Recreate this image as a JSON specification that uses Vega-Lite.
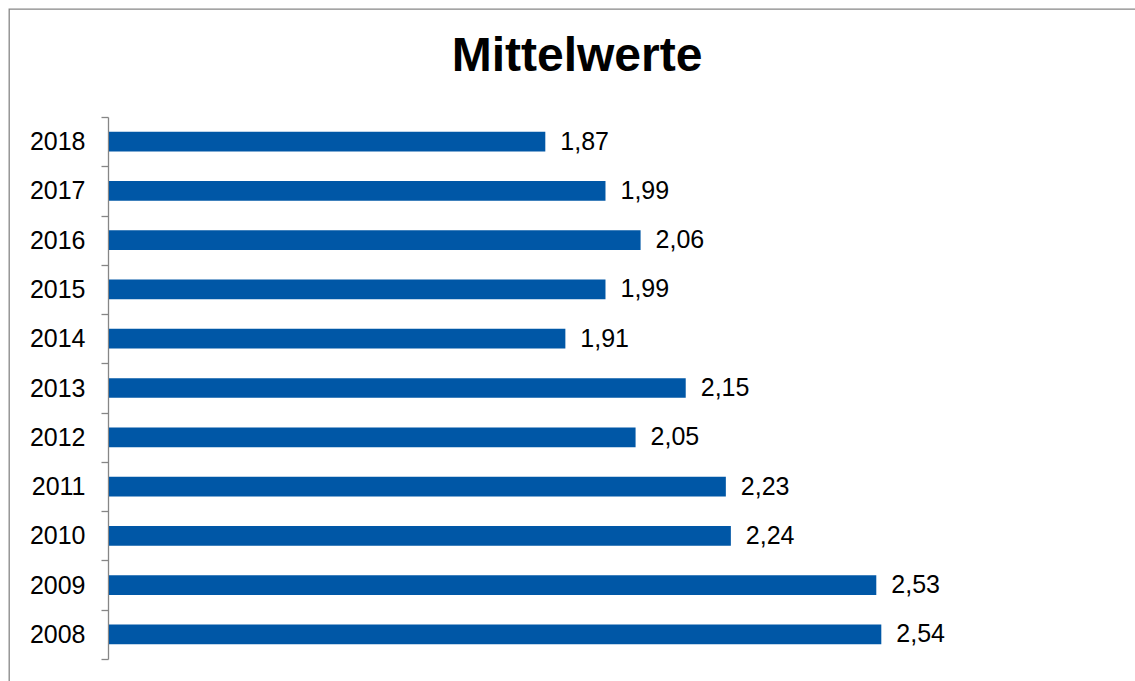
{
  "$schema": "https://vega.github.io/schema/vega-lite/v6.json",
  "autosize": {"type": "none"},
  "padding": {"left": 9, "top": 9, "right": -10, "bottom": -10},
  "width": 1136,
  "height": 682,
  "background": "white",
  "title": {
    "text": "Mittelwerte",
    "font": "Liberation Sans",
    "fontSize": 48,
    "fontWeight": "bold",
    "color": "black",
    "anchor": "middle",
    "frame": "group",
    "baseline": "alphabetic",
    "offset": -122
  },
  "data": {
    "values": [
      {"year": "2018", "value": 1.87},
      {"year": "2017", "value": 1.99},
      {"year": "2016", "value": 2.06},
      {"year": "2015", "value": 1.99},
      {"year": "2014", "value": 1.91},
      {"year": "2013", "value": 2.15},
      {"year": "2012", "value": 2.05},
      {"year": "2011", "value": 2.23},
      {"year": "2010", "value": 2.24},
      {"year": "2009", "value": 2.53},
      {"year": "2008", "value": 2.54}
    ]
  },
  "encoding": {
    "y": {
      "field": "year",
      "type": "ordinal",
      "sort": "descending",
      "scale": {"range": [108, 650], "paddingInner": 0, "paddingOuter": 0},
      "axis": {
        "title": null,
        "offset": -99,
        "tickBand": "extent",
        "tickSize": 7,
        "tickColor": "#868686",
        "tickWidth": 1.3,
        "domainColor": "#868686",
        "domainWidth": 1.3,
        "labelFont": "Liberation Sans",
        "labelFontSize": 25,
        "labelColor": "black",
        "labelPadding": 16
      }
    },
    "x": {
      "field": "value",
      "type": "quantitative",
      "scale": {"domain": [1, 3], "range": [100, 1103], "zero": false},
      "axis": null
    }
  },
  "layer": [
    {
      "mark": {"type": "bar", "color": "#0057A6", "height": {"band": 0.4}},
      "encoding": {"x2": {"datum": 1}}
    },
    {
      "mark": {"type": "text", "align": "left", "baseline": "middle", "dx": 15, "font": "Liberation Sans", "fontSize": 25, "color": "black"},
      "encoding": {"text": {"field": "value", "type": "quantitative", "format": ".2f"}}
    }
  ],
  "config": {
    "view": {"stroke": "#868686", "strokeWidth": 1.3},
    "locale": {"number": {"decimal": ",", "thousands": ".", "grouping": [3], "currency": ["", " €"]}}
  }
}
